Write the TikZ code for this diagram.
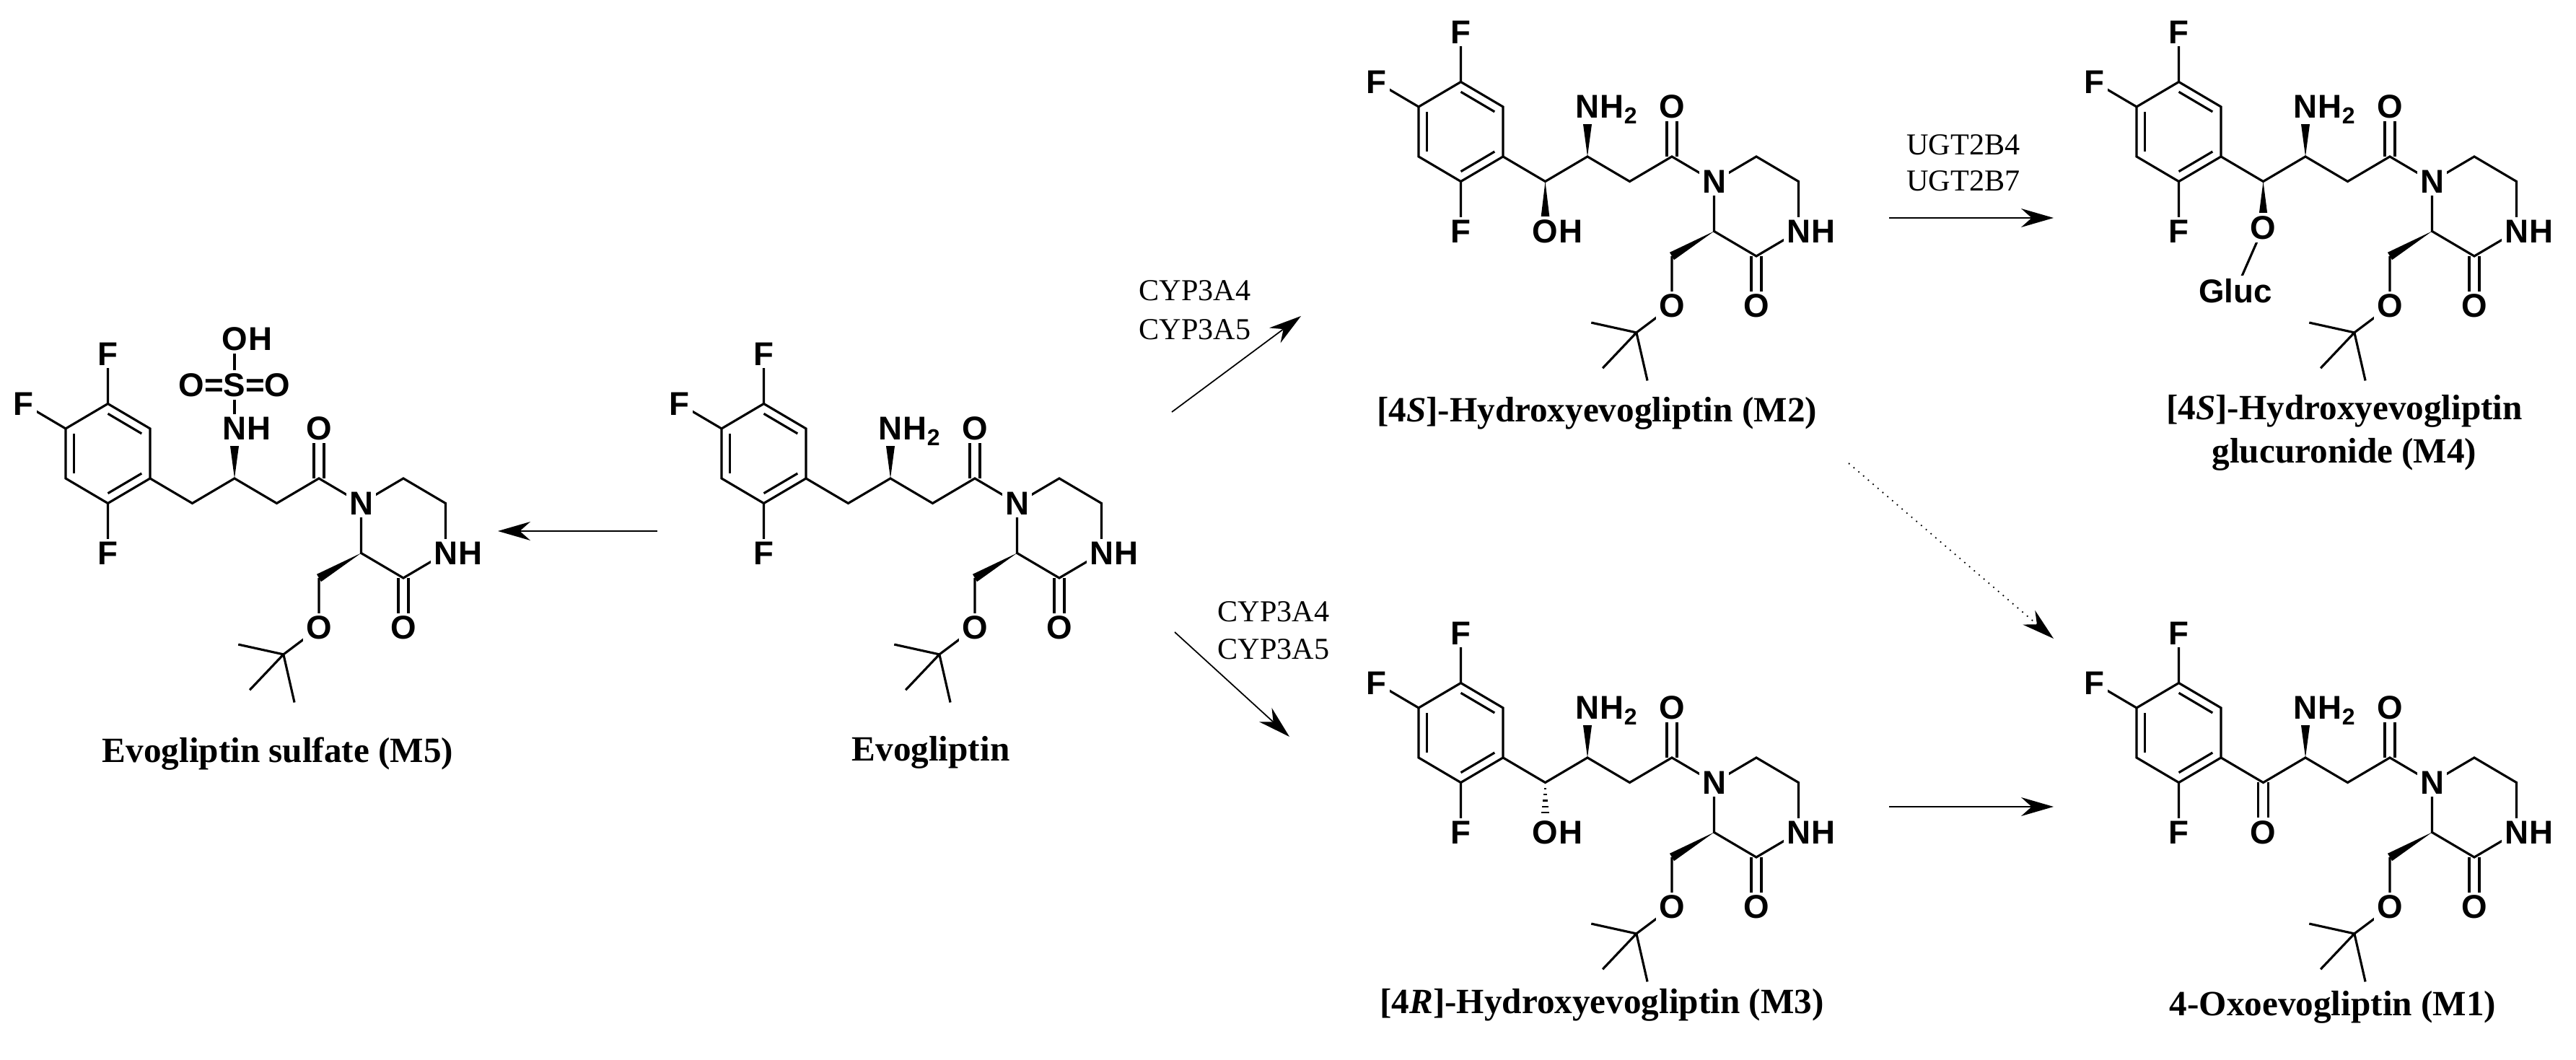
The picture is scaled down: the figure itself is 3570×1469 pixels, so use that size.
\documentclass[tikz,border=0pt]{standalone}
\usepackage{fontspec}
\newfontfamily\atomfont{Liberation Sans}
\newfontfamily\capfont{Liberation Serif}
\usetikzlibrary{calc,arrows.meta}
\tikzset{
 bond/.style={line width=0.9pt},
 atom/.style={font=\atomfont\bfseries\fontsize{13}{15}\selectfont, fill=white, inner sep=1.2pt},
 sfx/.style={atom, anchor=base west, inner xsep=0pt},
 caption/.style={font=\capfont\bfseries\fontsize{14}{17}\selectfont, align=center},
 enz/.style={font=\capfont\fontsize{12}{14}\selectfont},
 rxn/.style={line width=0.5pt, -{Stealth[length=4.5mm,width=2.6mm]}},
}
\newcommand\dbl[2]{\draw[bond] ($#1+(-0.7mm,0)$)--($#2+(-0.7mm,0)$); \draw[bond] ($#1+(0.7mm,0)$)--($#2+(0.7mm,0)$);}
\newcommand\mol[4]{%
\begin{scope}[shift={(#2,#3)}, x=5.85mm, y=-3.45mm]
 \draw[bond] (0,0)--(0,-2)--(-1,-3)--(-2,-2)--(-2,0)--(-1,1)--cycle;
 \draw[bond] ($(-1,-3)!0.2!(-1,-1)$)--($(0,-2)!0.2!(-1,-1)$);
 \draw[bond] ($(-2,-2)!0.2!(-1,-1)$)--($(-2,0)!0.2!(-1,-1)$);
 \draw[bond] ($(0,0)!0.2!(-1,-1)$)--($(-1,1)!0.2!(-1,-1)$);
 \draw[bond] (-1,-3)--(-1,-5) (-2,-2)--(-3,-3) (-1,1)--(-1,3);
 \draw[bond] (0,0)--(1,1)--(2,0)--(3,1)--(4,0)--(5,1)--(6,0)--(7,1)--(7,3)--(6,4)--(5,3)--(5,1);
 \dbl{(4,0)}{(4,-2)}
 \dbl{(6,4)}{(6,6)}
 \draw[bond] (4,4)--(4,6)--(3.16,7.07)--(2.09,6.67) (3.16,7.07)--(2.36,8.5) (3.16,7.07)--(3.42,9.0);
 \fill (5,3) -- ($(4,4)!0.6mm!90:(5,3)$) -- ($(4,4)!0.6mm!-90:(5,3)$) -- cycle;
 \fill (2,0) -- ($(2,-1.3)+(-0.6mm,0)$) -- ($(2,-1.3)+(0.6mm,0)$) -- cycle;
 \node[atom] (#1F1) at (-1,-5) {F};
 \node[atom] (#1F2) at (-3,-3) {F};
 \node[atom] (#1F3) at (-1,3) {F};
 \node[atom] (#1O1) at (4,-2) {O};
 \node[atom] (#1N1) at (5,1) {N};
 \node[atom] (#1N2) at (7,3) {N};
 \node[sfx] (#1N2h) at ([xshift=-1.2pt]#1N2.base east) {H};
 \node[atom] (#1O2) at (6,6) {O};
 \node[atom] (#1O3) at (4,6) {O};
 \ifcase#4
  \node[atom] (#1N3) at (2,-2) {N};
  \node[sfx] (#1N3h) at ([xshift=-1.2pt]#1N3.base east) {H\textsubscript{2}};
 \or
  \draw[bond] (2,-2)--(2,-5.6);
  \node[atom] (#1N3) at (2,-2) {N};
  \node[sfx] (#1N3h) at ([xshift=-1.2pt]#1N3.base east) {H};
  \node[atom] (#1S) at (2,-3.75) {O=S=O};
  \node[atom] (#1O4) at (2,-5.6) {O};
  \node[sfx] (#1O4h) at ([xshift=-1.2pt]#1O4.base east) {H};
 \or
  \fill (1,1) -- ($(1,2.45)+(-0.6mm,0)$) -- ($(1,2.45)+(0.6mm,0)$) -- cycle;
  \node[atom] (#1N3) at (2,-2) {N};
  \node[sfx] (#1N3h) at ([xshift=-1.2pt]#1N3.base east) {H\textsubscript{2}};
  \node[atom] (#1O4) at (1,3) {O};
  \node[sfx] (#1O4h) at ([xshift=-1.2pt]#1O4.base east) {H};
 \or
  \foreach \i in {1,...,6}{\pgfmathsetmacro\w{0.65*\i/6}\pgfmathsetmacro\t{\i/6}
   \draw[line width=0.6pt] ($(1,1)!\t!(1,2.45)+(-\w mm,0)$)--($(1,1)!\t!(1,2.45)+(\w mm,0)$);}
  \node[atom] (#1N3) at (2,-2) {N};
  \node[sfx] (#1N3h) at ([xshift=-1.2pt]#1N3.base east) {H\textsubscript{2}};
  \node[atom] (#1O4) at (1,3) {O};
  \node[sfx] (#1O4h) at ([xshift=-1.2pt]#1O4.base east) {H};
 \or
  \fill (1,1) -- ($(1,2.35)+(-0.6mm,0)$) -- ($(1,2.35)+(0.6mm,0)$) -- cycle;
  \draw[bond] (1,2.85)--(0.34,5.4);
  \node[atom] (#1N3) at (2,-2) {N};
  \node[sfx] (#1N3h) at ([xshift=-1.2pt]#1N3.base east) {H\textsubscript{2}};
  \node[atom] (#1O4) at (1,2.85) {O};
  \node[atom] (#1G) at (0.34,5.4) {Gluc};
 \or
  \dbl{(1,1)}{(1,3)}
  \node[atom] (#1N3) at (2,-2) {N};
  \node[sfx] (#1N3h) at ([xshift=-1.2pt]#1N3.base east) {H\textsubscript{2}};
  \node[atom] (#1O4) at (1,3) {O};
 \fi
\end{scope}}
\begin{document}
\begin{tikzpicture}[x=0.1mm,y=-0.1mm]
\useasboundingbox (0,0) rectangle (3570,1469);
\mol{ev}{1117}{663}{0}
\mol{mv}{208}{663}{1}
\mol{mt}{2083}{217}{2}
\mol{mr}{2083}{1050}{3}
\mol{mg}{3078}{217}{4}
\mol{mo}{3078}{1050}{5}
\node[caption] (cev) at (1290,1043) {Evogliptin};
\node[caption] (cmv) at (385,1045) {Evogliptin sulfate (M5)};
\node[caption] (cmt) at (2213,573) {[4\textit{S}]-Hydroxyevogliptin (M2)};
\node[caption] (cmg) at (3249,600) {[4\textit{S}]-Hydroxyevogliptin\\glucuronide (M4)};
\node[caption] (cmr) at (2220,1393) {[4\textit{R}]-Hydroxyevogliptin (M3)};
\node[caption] (cmo) at (3233,1396) {4-Oxoevogliptin (M1)};
\coordinate (a1s) at (911,736); \coordinate (a1e) at (690,736);
\coordinate (a2s) at (1624,571); \coordinate (a2e) at (1803,438);
\coordinate (a3s) at (1628,876); \coordinate (a3e) at (1787,1021);
\coordinate (a4s) at (2618,302); \coordinate (a4e) at (2846,302);
\coordinate (a5s) at (2562,642); \coordinate (a5e) at (2846,885);
\coordinate (a6s) at (2618,1118); \coordinate (a6e) at (2846,1118);
\draw[rxn] (a1s)--(a1e);
\draw[rxn] (a2s)--(a2e);
\draw[rxn] (a3s)--(a3e);
\draw[rxn] (a4s)--(a4e);
\draw[rxn,dotted] (a5s)--(a5e);
\draw[rxn] (a6s)--(a6e);
\node[enz] (e1) at (1656,403) {CYP3A4};
\node[enz] (e2) at (1656,457) {CYP3A5};
\node[enz] (e3) at (1765,848) {CYP3A4};
\node[enz] (e4) at (1765,900) {CYP3A5};
\node[enz] (e5) at (2721,201) {UGT2B4};
\node[enz] (e6) at (2721,251) {UGT2B7};
\end{tikzpicture}
\end{document}
